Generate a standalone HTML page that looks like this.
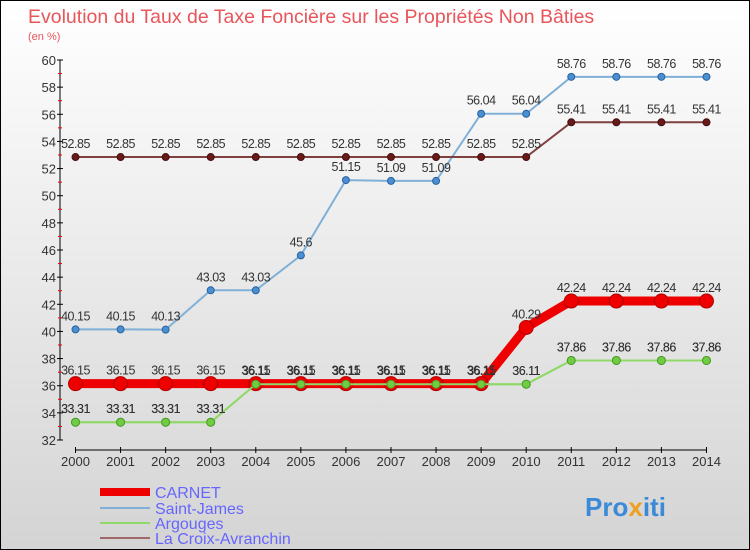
<!DOCTYPE html>
<html><head><meta charset="utf-8"><style>
body{margin:0}
#c{width:750px;height:550px;position:relative;font-family:"Liberation Sans",sans-serif;overflow:hidden}
svg text{font-family:"Liberation Sans",sans-serif}
</style></head><body>
<div id="c">
<svg width="750" height="550" xmlns="http://www.w3.org/2000/svg" id="svg">
<defs><linearGradient id="bg" x1="0" y1="0" x2="0" y2="1"><stop offset="0" stop-color="#ffffff"/><stop offset="1" stop-color="#d4d4d4"/></linearGradient></defs>
<rect x="0.5" y="0.5" width="749" height="549" fill="url(#bg)" stroke="#000"/>
<text x="28" y="23" font-size="19.5" fill="#e8555a">Evolution du Taux de Taxe Foncière sur les Propriétés Non Bâties</text>
<text x="28" y="40" font-size="11" fill="#e8555a">(en %)</text>
<g id="axes"></g><g id="series"></g>
<g>
<line x1="100" y1="492" x2="150" y2="492" stroke="#ee0000" stroke-width="8"/><text x="155" y="498" font-size="16" fill="#6666ff">CARNET</text>
<line x1="100" y1="508" x2="150" y2="508" stroke="#80b0d8" stroke-width="2"/><text x="155" y="514" font-size="16" fill="#6666ff">Saint-James</text>
<line x1="100" y1="523" x2="150" y2="523" stroke="#90d868" stroke-width="2"/><text x="155" y="529" font-size="16" fill="#6666ff">Argouges</text>
<line x1="100" y1="538" x2="150" y2="538" stroke="#a06868" stroke-width="2"/><text x="155" y="544" font-size="16" fill="#6666ff">La Croix-Avranchin</text>
</g>
<text x="585" y="516" font-size="26" font-weight="bold"><tspan fill="#3a8ad8">Pro</tspan><tspan fill="#f0a020">x</tspan><tspan fill="#3a8ad8">iti</tspan></text>
</svg>
</div>
<script>
const years=[2000,2001,2002,2003,2004,2005,2006,2007,2008,2009,2010,2011,2012,2013,2014];
const yTicks=[32,34,36,38,40,42,44,46,48,50,52,54,56,58,60];
const carnet=[36.15,36.15,36.15,36.15,36.15,36.15,36.15,36.15,36.15,36.15,40.29,42.24,42.24,42.24,42.24];
const saintJames=[40.15,40.15,40.13,43.03,43.03,45.6,51.15,51.09,51.09,56.04,56.04,58.76,58.76,58.76,58.76];
const argouges=[33.31,33.31,33.31,33.31,36.11,36.11,36.11,36.11,36.11,36.11,36.11,37.86,37.86,37.86,37.86];
const laCroix=[52.85,52.85,52.85,52.85,52.85,52.85,52.85,52.85,52.85,52.85,52.85,55.41,55.41,55.41,55.41];
const NS="http://www.w3.org/2000/svg";
const x=i=>75.5+i*45.07;
const y=v=>440-(v-32)*(380/28);
function mk(t,a,p){const e=document.createElementNS(NS,t);for(const k in a)e.setAttribute(k,a[k]);p.appendChild(e);return e;}
const ax=document.getElementById('axes');
mk('line',{x1:60,y1:60,x2:60,y2:440,stroke:'#000'},ax);
mk('line',{x1:75,y1:450,x2:706,y2:450,stroke:'#000'},ax);
yTicks.forEach(v=>{mk('line',{x1:57,y1:y(v),x2:63,y2:y(v),stroke:'#000'},ax);
 if(v<60)mk('line',{x1:58,y1:y(v+1),x2:62,y2:y(v+1),stroke:'#e00'},ax);
 const t=mk('text',{x:56,y:y(v)+5,'font-size':13,fill:'#333','text-anchor':'end'},ax);t.textContent=v;
 });
years.forEach((yr,i)=>{mk('line',{x1:x(i),y1:447,x2:x(i),y2:453,stroke:'#000'},ax);
 const t=mk('text',{x:x(i),y:466,'font-size':13,fill:'#333','text-anchor':'middle'},ax);t.textContent=yr;
 });
const sg=document.getElementById('series');
function series(d,name,line,w,r,fill,stroke){
 const g=mk('g',{},sg);
 mk('polyline',{points:d.map((v,i)=>x(i)+','+y(v)).join(' '),fill:'none',stroke:line,'stroke-width':w},g);
 d.forEach((v,i)=>{const c=mk('circle',{cx:x(i),cy:y(v),r:r,fill:fill,stroke:stroke},g);
  
  const t=mk('text',{x:x(i),y:y(v)-9,'font-size':12.5,fill:'#333','text-anchor':'middle','letter-spacing':'-0.5'},g);t.textContent=v;});
}
series(argouges,'argouges-series','#90d868',2,4,'#70cc40','#4a9a2a');
series(saintJames,'saint-james-series','#80b0d8',2,3.5,'#4a90d0','#2a60a0');
series(laCroix,'la-croix-series','#804040',2,3.5,'#6a1818','#401010');
series(carnet,'carnet-series','#ee0000',9,7,'#ee0000','#b00000');
series(argouges,'argouges-overlay','#90d868',2,4,'#70cc40','#4a9a2a');
</script>
</body></html>
